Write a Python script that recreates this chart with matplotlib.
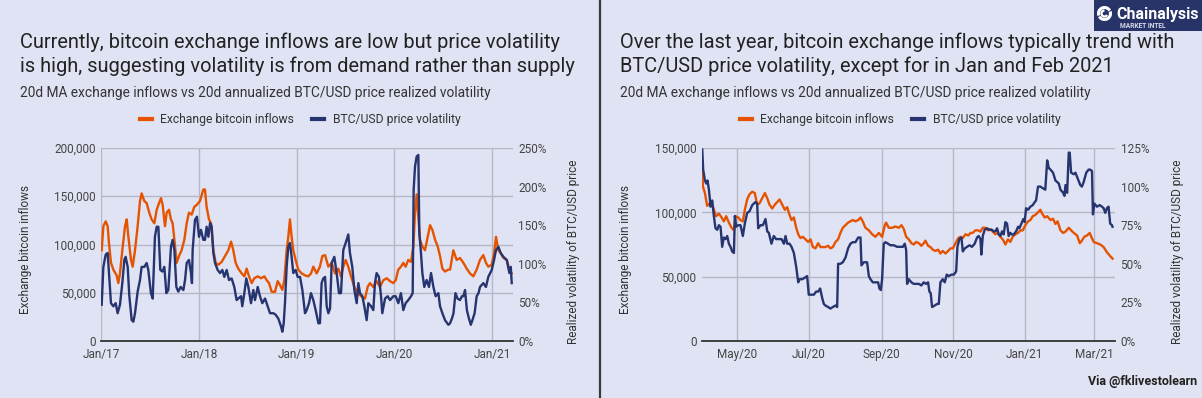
import numpy as np
import pandas as pd
import matplotlib
matplotlib.use('Agg')
import matplotlib.pyplot as plt
from matplotlib.patches import Rectangle, Arc
from matplotlib.lines import Line2D

# ---------------- DATA ----------------
# Left panel: years since 2017-01-01
L_START = '2017-01-01'
L_INF_YRS = [0.003,0.020,0.044,0.064,0.078,0.098,0.122,0.156,0.173,0.190,0.214,0.242,0.259,0.276,0.303,0.320,0.344,0.371,0.395,0.412,
             0.439,0.463,0.487,0.514,0.542,0.566,0.590,0.610,0.627,0.651,0.668,0.692,0.712,0.729,0.747,0.770,0.794,0.821,0.849,0.873,
             0.896,0.924,0.951,0.975,1.009,1.043,
             1.060,1.077,1.101,1.122,1.146,1.170,1.197,1.231,1.265,1.299,1.327,1.350,1.374,1.401,1.436,1.463,1.487,1.511,1.538,1.565,
             1.600,1.634,1.668,1.692,1.716,1.743,1.777,1.804,1.828,1.852,1.872,1.896,1.913,1.930,1.947,1.964,1.988,2.015,2.050,2.084,
             2.118,2.145,2.169,2.203,2.237,2.261,
             2.289,2.323,2.357,2.391,2.425,2.452,2.476,2.500,2.527,2.555,2.589,2.630,2.664,2.698,2.725,2.749,2.783,2.817,2.851,2.886,
             2.920,2.954,2.988,3.012,3.039,3.066,3.090,3.114,3.141,3.169,3.193,3.210,3.227,3.244,3.261,3.285,3.312,3.340,3.364,3.388,
             3.415,3.442,3.466,3.490,3.517,3.551,
             3.569,3.602,3.636,3.670,3.705,3.739,3.773,3.807,3.841,3.875,3.909,3.936,3.960,3.995,4.019,4.039,4.063,4.087,4.115,4.149,
             4.176,4.200]
L_INFLOWS_K = [94,119,124,119,101,81,74,68,60,70,94,119,126,108,84,77,94,119,145,153,
               145,143,134,126,122,136,143,148,141,119,133,136,126,122,105,81,88,94,105,122,
               133,131,139,141,145,157,
               157,139,126,122,94,81,79,82,88,94,103,94,81,75,70,67,75,67,60,65,
               67,65,67,63,60,51,51,62,58,53,63,94,108,126,108,94,84,74,70,68,
               67,70,77,70,77,88,
               89,77,81,70,75,67,77,84,77,67,56,49,46,44,56,60,56,62,56,63,
               65,62,60,63,74,77,81,77,84,82,98,133,152,129,105,98,94,108,120,115,
               105,98,88,75,72,74,
               74,94,84,86,81,75,70,67,74,84,89,81,77,79,91,108,94,91,86,84,
               74,70]
L_VOL_YRS = [0.003,0.020,0.044,0.064,0.078,0.098,0.122,0.146,0.166,0.190,0.214,0.235,0.248,0.269,0.286,0.310,0.327,0.344,0.371,0.395,
             0.412,0.439,0.463,0.480,0.507,0.525,0.548,0.566,0.583,0.603,0.624,0.644,0.665,0.685,0.712,0.729,0.747,0.767,0.787,0.811,
             0.839,0.856,0.873,0.896,0.917,0.927,0.934,0.958,0.978,0.999,1.019,1.043,
             1.060,1.077,1.095,1.112,1.129,1.146,1.163,1.190,1.214,1.238,1.258,1.282,1.306,1.333,1.360,1.384,1.401,1.429,1.442,1.463,
             1.483,1.504,1.531,1.555,1.572,1.600,1.623,1.647,1.675,1.702,1.726,1.760,1.784,1.811,1.838,1.852,1.866,1.879,1.896,1.913,
             1.930,1.947,1.964,1.988,2.009,2.033,2.057,2.084,2.101,2.125,2.145,2.169,2.193,2.221,2.237,2.254,2.271,
             2.289,2.306,2.323,2.340,2.357,2.384,2.408,2.432,2.452,2.476,2.500,2.527,2.544,2.568,2.589,2.613,2.630,2.647,2.671,2.691,
             2.715,2.732,2.760,2.783,2.800,2.817,2.841,2.862,2.875,2.903,2.930,2.954,2.988,3.012,3.039,3.066,3.090,3.114,3.141,3.169,
             3.186,3.196,3.210,3.227,3.244,3.254,3.271,3.285,3.305,3.329,3.353,3.374,3.398,3.421,3.449,3.466,3.490,3.517,3.551,
             3.569,3.590,3.604,3.624,3.645,3.670,3.690,3.705,3.722,3.741,3.760,3.781,3.800,3.820,3.841,3.860,3.875,3.909,3.936,3.960,
             3.995,4.019,4.039,4.063,4.087,4.115,4.149,4.176,4.190,4.200]
L_VOL_PCT = [47,96,112,114,88,49,45,49,36,47,75,105,109,96,58,27,25,36,64,79,
             96,96,101,92,62,55,135,148,148,92,90,96,62,66,122,131,118,70,64,70,
             66,79,101,105,88,75,118,157,161,135,144,131,
             131,148,135,153,148,114,101,92,88,92,83,92,79,81,70,53,55,58,45,62,
             81,70,49,66,53,70,58,49,55,45,36,36,34,29,19,12,23,49,96,122,
             127,109,88,92,83,83,66,36,40,49,62,53,40,23,23,75,81,
             83,45,36,42,101,109,88,62,62,118,127,138,114,96,66,49,75,62,58,45,
             27,49,45,40,75,88,83,58,36,55,58,53,58,58,49,62,40,49,53,58,
             62,196,226,239,241,140,114,88,70,79,70,88,70,58,62,45,36,27,21,
             23,30,36,62,55,53,58,58,66,40,30,21,28,36,58,62,70,75,70,83,
             92,105,118,122,114,109,105,88,96,75]

# Right panel: days since 2020-05-01
R_START = '2020-05-01'
R_INF_DAYS = [-29.8,-29.2,-27.5,-25.6,-23.6,-21.9,-19.9,-17.9,-15.6,-13.3,-11.4,-9.4,-7.1,-4.8,-2.8,-1.4,0.9,2.8,4.8,6.5,
              8.5,10.5,12.8,15.0,17.0,19.0,21.3,23.6,25.6,27.5,29.8,32.1,34.1,36.1,38.3,40.6,42.6,44.6,46.3,48.3,
              50.3,52.0,53.9,55.9,58.2,60.5,62.5,64.5,66.7,69.0,71.0,73.0,75.2,77.5,79.5,81.5,83.8,86.0,88.0,90.0,
              92.3,94.5,96.5,98.5,100.8,103.1,105.1,107.0,
              109.3,112.2,115.0,117.8,120.7,123.5,125.8,126.9,129.2,132.0,134.9,137.7,140.0,142.0,144.0,146.2,148.5,150.5,152.5,154.8,
              157.0,159.0,160.4,162.7,164.7,166.7,168.9,171.2,173.2,175.2,177.5,179.8,181.8,183.8,186.1,188.4,190.4,192.3,194.6,196.9,
              198.9,200.7,203.0,205.3,207.3,209.3,211.5,213.8,215.8,217.8,220.0,222.3,224.3,226.3,228.6,230.8,232.8,234.8,237.1,239.4,
              241.4,243.4,245.6,247.9,249.9,251.9,254.1,256.4,258.4,259.9,262.1,
              264.2,267.0,269.2,271.2,273.1,275.5,277.8,279.8,282.6,284.6,286.9,289.7,292.0,293.8,295.8,298.1,300.4,301.8,303.8,306.6,
              309.5,312.3,315.1,317.9,319.9]
R_INFLOWS_K = [133,120,115,105,107,108,102,97,99,96,93,97,92,88,86,97,96,94,93,102,
               110,114,116,115,106,107,111,115,111,106,103,106,108,110,106,102,104,98,94,96,
               88,83,80,81,79,77,79,73,72,76,73,73,73,74,72,73,77,79,84,88,
               90,92,93,94,93,94,96,93,
               88,86,83,81,84,81,90,92,88,88,89,88,90,87,81,79,76,75,77,76,
               74,76,78,74,73,71,70,71,68,70,68,70,72,72,76,80,81,80,83,82,
               84,84,86,86,85,88,88,86,87,85,83,84,81,79,75,79,77,81,83,84,
               86,86,90,93,94,97,98,100,102,99,96,
               97,94,95,91,93,86,84,85,88,86,84,82,76,78,81,82,84,81,77,76,
               75,73,69,66,64]
R_VOL_DAYS = [-29.8,-29.0,-27.5,-26.4,-25.3,-24.1,-22.7,-21.3,-19.9,-18.5,-17.0,-15.6,-14.2,-12.8,-11.4,-9.9,-8.5,-7.1,-5.7,-4.3,
              -2.8,-2.0,-0.9,0.9,2.8,4.8,6.5,8.5,10.5,12.8,14.2,15.6,17.0,17.9,19.9,21.9,24.1,25.6,27.0,29.2,
              31.2,33.2,35.5,37.8,39.8,41.2,42.6,44.6,46.3,48.3,50.3,52.0,53.1,55.4,57.6,59.6,61.0,63.3,65.3,67.3,
              69.0,70.7,72.4,73.8,75.2,77.5,79.5,81.5,83.8,85.2,86.0,88.0,90.0,92.3,94.5,96.5,98.5,100.8,103.1,105.1,
              105.9,107.9,
              109.3,110.7,112.2,113.6,115.6,117.8,120.1,121.2,122.4,123.5,124.9,126.3,128.6,130.6,133.5,136.3,139.2,141.2,142.8,144.0,
              144.8,146.2,148.5,150.5,152.5,154.8,157.0,159.0,160.9,162.7,163.8,164.9,166.1,168.4,170.4,171.8,173.2,175.2,176.9,178.6,
              180.3,182.6,184.6,186.6,187.7,189.4,191.1,192.3,194.0,196.0,197.9,200.1,202.4,204.4,205.8,207.3,208.1,209.3,210.9,212.9,
              214.9,217.2,218.6,220.0,221.5,222.9,224.3,225.7,227.1,228.6,230.0,231.4,232.8,234.2,235.7,237.7,239.4,240.5,242.2,243.9,
              245.0,246.2,247.9,249.9,251.9,253.6,254.7,256.4,258.4,260.4,262.6,
              264.2,265.6,267.0,269.2,271.2,274.1,275.5,277.8,278.9,279.8,281.2,282.6,283.4,284.6,286.9,288.3,290.3,292.4,293.8,295.3,
              297.5,299.5,300.9,302.4,303.2,304.4,306.6,308.9,310.9,312.3,313.7,315.1,316.5,317.9,319.4,319.9]
R_VOL_PCT = [124,111,104,102,104,98,87,91,81,73,72,75,74,61,67,66,68,63,61,58,
             57,81,74,75,75,68,76,83,84,88,89,90,89,73,75,75,79,71,70,63,
             68,66,66,66,63,68,63,63,61,57,48,38,40,40,41,42,30,30,30,32,
             32,34,28,24,23,22,21,22,23,22,50,50,51,54,60,63,64,64,67,67,
             49,51,
             51,51,42,40,38,38,38,34,33,40,63,64,63,62,62,61,61,61,63,59,
             37,40,38,37,37,37,36,38,37,38,32,31,22,23,24,24,38,40,38,43,
             42,43,43,45,61,66,67,58,60,61,62,61,63,67,68,66,56,68,72,73,
             72,72,71,71,73,69,68,71,69,77,76,68,70,69,69,71,74,73,76,79,
             77,86,85,87,88,90,91,100,100,99,98,
             117,112,111,109,104,102,98,96,94,101,96,122,122,109,108,109,105,101,100,103,
             109,111,111,110,82,89,87,88,87,86,83,86,87,76,75,74]

L_XTICKS = ['2017-01-01', '2018-01-01', '2019-01-01', '2020-01-01', '2021-01-01']
L_XTICKLABELS = ['Jan/17', 'Jan/18', 'Jan/19', 'Jan/20', 'Jan/21']
R_XTICKS = ['2020-05-01', '2020-07-01', '2020-09-01', '2020-11-01', '2021-01-01', '2021-03-01']
R_XTICKLABELS = ['May/20', 'Jul/20', 'Sep/20', 'Nov/20', 'Jan/21', 'Mar/21']

L_TITLE = ['Currently, bitcoin exchange inflows are low but price volatility',
           'is high, suggesting volatility is from demand rather than supply']
R_TITLE = ['Over the last year, bitcoin exchange inflows typically trend with',
           'BTC/USD price volatility, except for in Jan and Feb 2021']
SUBTITLE = '20d MA exchange inflows vs 20d annualized BTC/USD price realized volatility'
SERIES = ['Exchange bitcoin inflows', 'BTC/USD price volatility']
YLABEL_L = 'Exchange bitcoin inflows'
YLABEL_R = 'Realized volatility of BTC/USD price'

# ---------------- STYLE ----------------
BG = '#E0E3F3'
ORANGE = '#E65300'
NAVY = '#263470'
GRID = '#B5B7C7'
TICKC = '#444444'
plt.rcParams['font.family'] = ['Roboto', 'DejaVu Sans']

W, H = 1202, 398
fig = plt.figure(figsize=(W / 100, H / 100), dpi=100, facecolor=BG)


def fx(px):
    return px / W


def fy(py):
    return 1 - py / H


def to_dates_years(start, yrs):
    return pd.Timestamp(start) + pd.to_timedelta(np.asarray(yrs) * 365.25, unit='D')


def to_dates_days(start, days):
    return pd.Timestamp(start) + pd.to_timedelta(np.asarray(days), unit='D')


def panel(x0, x1, d_inf, inf_k, d_vol, vol, xlim, xticks, xlabels, inf_max, vol_max, vol_step):
    ax = fig.add_axes([fx(x0), fy(341), (x1 - x0) / W, (341 - 148) / H])
    ax.set_facecolor(BG)
    ax2 = ax.twinx()
    ax.plot(d_inf, np.asarray(inf_k) * 1000, color=ORANGE, lw=1.7, solid_joinstyle='round')
    ax2.plot(d_vol, vol, color=NAVY, lw=1.7, solid_joinstyle='round')
    ax.set_xlim(pd.Timestamp(xlim[0]), pd.Timestamp(xlim[1]))
    ax.set_ylim(0, inf_max)
    ax2.set_ylim(0, vol_max)
    yt = np.arange(0, inf_max + 1, 50000)
    ax.set_yticks(yt)
    ax.set_yticklabels([f'{int(v):,}' for v in yt])
    vt = np.arange(0, vol_max + 0.1, vol_step)
    ax2.set_yticks(vt)
    ax2.set_yticklabels([f'{int(v)}%' for v in vt])
    ax.set_xticks([pd.Timestamp(t) for t in xticks])
    ax.set_xticklabels(xlabels)
    ax.grid(True, color=GRID, lw=1.0)
    ax.set_axisbelow(True)
    for s in ['top', 'left', 'right']:
        ax.spines[s].set_visible(False)
    for s in ax2.spines.values():
        s.set_visible(False)
    ax.spines['bottom'].set_color('#333333')
    ax.spines['bottom'].set_linewidth(1.3)
    ax.tick_params(axis='both', length=0, labelsize=8.5, colors=TICKC)
    ax.tick_params(axis='x', pad=5)
    ax.tick_params(axis='y', pad=4)
    ax2.tick_params(axis='y', length=0, labelsize=8.5, colors=TICKC, pad=4)
    return ax, ax2


panel(101.4, 512.8,
      to_dates_years(L_START, L_INF_YRS), L_INFLOWS_K,
      to_dates_years(L_START, L_VOL_YRS), L_VOL_PCT,
      ('2017-01-01', '2021-03-19'), L_XTICKS, L_XTICKLABELS, 200000, 250, 50)
panel(702, 1115,
      to_dates_days(R_START, R_INF_DAYS), R_INFLOWS_K,
      to_dates_days(R_START, R_VOL_DAYS), R_VOL_PCT,
      ('2020-04-01', '2021-03-19'), R_XTICKS, R_XTICKLABELS, 150000, 125, 25)

# Titles / subtitles
for x0, title in [(20, L_TITLE), (620, R_TITLE)]:
    fig.text(fx(x0), fy(48), title[0], fontsize=14.4, color='#222222', va='baseline')
    fig.text(fx(x0), fy(72), title[1], fontsize=14.4, color='#222222', va='baseline')
    fig.text(fx(x0), fy(97), SUBTITLE, fontsize=9.9, color='#333333', va='baseline')

# Axis labels
for xl, xr in [(26, 574), (626, 1178)]:
    fig.text(fx(xl), fy(250), YLABEL_L, rotation=90, ha='center', va='center', fontsize=8.5, color='#333333')
    fig.text(fx(xr), fy(252), YLABEL_R, rotation=90, ha='center', va='center', fontsize=8.5, color='#333333')

# Legends
handles = [Line2D([], [], color=ORANGE, lw=3), Line2D([], [], color=NAVY, lw=3)]
for cx in (300, 900):
    fig.legend(handles, SERIES, loc='center', bbox_to_anchor=(fx(cx), fy(120)), ncol=2, frameon=False,
               fontsize=8.7, handlelength=1.0, handletextpad=0.7, columnspacing=1.5,
               labelcolor='#333333')

# Divider
fig.add_artist(Line2D([fx(599.5), fx(599.5)], [0, 1], transform=fig.transFigure, color='#3a3a3a', lw=1.6))

# Logo
fig.add_artist(Rectangle((fx(1094), fy(31)), 108 / W, 31 / H, transform=fig.transFigure,
                         facecolor='#283468', edgecolor='none', zorder=1))
fig.text(fx(1116), fy(14), 'Chainalysis', fontsize=11.5, color='white', weight='bold', va='center', zorder=3)
fig.text(fx(1120), fy(25.5), 'MARKET INTEL', fontsize=4.8, color='#D8DCEF', weight='bold', va='center', zorder=3)
iax = fig.add_axes([fx(1097), fy(21), 15 / W, 15 / H], zorder=5)
iax.set_xlim(-1, 1)
iax.set_ylim(-1, 1)
iax.axis('off')
iax.patch.set_visible(False)
iax.add_patch(Arc((0, 0), 1.6, 1.6, theta1=30, theta2=200, color='white', lw=2.2))
iax.add_patch(Arc((0, 0), 1.6, 1.6, theta1=210, theta2=20, color='white', lw=2.2))
iax.add_patch(Arc((0, 0), 0.8, 0.8, theta1=90, theta2=330, color='white', lw=1.6))

# Credit
fig.text(fx(1197), fy(381), 'Via @fklivestolearn', ha='right', va='center', fontsize=9,
         weight='bold', color='#222222')

fig.savefig('out.png', dpi=100, facecolor=BG)
